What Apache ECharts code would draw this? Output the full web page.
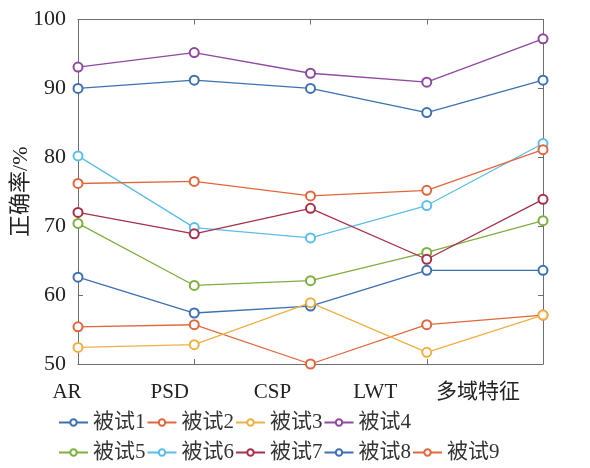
<!DOCTYPE html>
<html><head><meta charset="utf-8">
<script src="https://cdn.jsdelivr.net/npm/echarts@6/dist/echarts.min.js"></script>
<style>html,body{margin:0;padding:0;background:#fff}#c{width:590px;height:468px}</style>
</head><body><div id="c"></div>
<script>
const categories = ['AR', 'PSD', 'CSP', 'LWT', '多域特征'];
const seriesNames = ['被试1', '被试2', '被试3', '被试4', '被试5', '被试6', '被试7', '被试8', '被试9'];
const s1 = [62.6, 57.4, 58.4, 63.6, 63.6];
const s2 = [55.4, 55.7, 50.0, 55.7, 57.1];
const s3 = [52.4, 52.8, 58.9, 51.7, 57.1];
const s4 = [93.1, 95.2, 92.2, 90.9, 97.2];
const s5 = [70.4, 61.4, 62.1, 66.2, 70.8];
const s6 = [80.2, 69.8, 68.3, 73.0, 82.0];
const s7 = [72.0, 68.9, 72.6, 65.2, 73.9];
const s8 = [90.0, 91.2, 90.0, 86.5, 91.2];
const s9 = [76.2, 76.5, 74.4, 75.2, 81.1];
const yTicks = [50, 60, 70, 80, 90, 100];
const yName = '正确率/%';

const allData = [s1, s2, s3, s4, s5, s6, s7, s8, s9];
const colors = ['#3d70b0', '#e0673c', '#eeb045', '#8e48a0', '#7fae40', '#5cbde8', '#a6304a', '#3d70b0', '#e0673c'];
const font = '"Liberation Serif", "Noto Sans CJK SC", serif';
const axisColor = '#6e6e6e';

const legendCommon = {left: 58, padding: 0, itemWidth: 29, itemHeight: 8, itemGap: 1,
  textStyle: {fontFamily: font, fontSize: 21, color: '#333'}};

const chart = echarts.init(document.getElementById('c'), null, {renderer: 'canvas'});
chart.setOption({
  animation: false,
  backgroundColor: '#fff',
  color: colors,
  grid: [
    {left: 78, right: 47, top: 19.5, bottom: 104, containLabel: false, outerBoundsMode: 'none'},
    {left: 67, right: 112, top: 19.5, bottom: 104, containLabel: false, outerBoundsMode: 'none'}
  ],
  legend: [
    Object.assign({data: seriesNames.slice(0, 4), top: 412}, legendCommon),
    Object.assign({data: seriesNames.slice(4), top: 442}, legendCommon)
  ],
  xAxis: [
    {type: 'category', data: categories, boundaryGap: false, gridIndex: 0, position: 'bottom',
     axisLine: {lineStyle: {color: axisColor, width: 1}},
     axisTick: {inside: true, length: 5, lineStyle: {color: axisColor}},
     axisLabel: {show: false}},
    {type: 'category', data: categories, boundaryGap: false, gridIndex: 0, position: 'top',
     axisLine: {lineStyle: {color: axisColor, width: 1}},
     axisTick: {inside: true, length: 5, lineStyle: {color: axisColor}},
     axisLabel: {show: false}},
    {type: 'category', data: categories, boundaryGap: false, gridIndex: 1, position: 'bottom',
     axisLine: {show: false}, axisTick: {show: false},
     axisLabel: {interval: 0, margin: 18, fontFamily: font, fontSize: 21, color: '#222'}}
  ],
  yAxis: [
    {type: 'value', min: yTicks[0], max: yTicks[yTicks.length - 1], interval: 10, gridIndex: 0,
     name: yName, nameLocation: 'middle', nameGap: 46, nameRotate: 90, nameMoveOverlap: false,
     nameTextStyle: {fontFamily: font, fontSize: 22, color: '#222'},
     axisLine: {show: true, lineStyle: {color: axisColor, width: 1}},
     axisTick: {show: true, inside: true, length: 5, lineStyle: {color: axisColor}},
     splitLine: {show: false},
     axisLabel: {margin: 12, fontFamily: font, fontSize: 22, color: '#222'}},
    {type: 'value', min: yTicks[0], max: yTicks[yTicks.length - 1], interval: 10, gridIndex: 0, position: 'right',
     axisLine: {show: true, lineStyle: {color: axisColor, width: 1}},
     axisTick: {show: true, inside: true, length: 5, lineStyle: {color: axisColor}},
     splitLine: {show: false}, axisLabel: {show: false}},
    {type: 'value', gridIndex: 1, min: 50, max: 100, show: false}
  ],
  series: allData.map((d, i) => ({
    name: seriesNames[i], type: 'line', data: d, xAxisIndex: 0, yAxisIndex: 0,
    symbol: 'emptyCircle', symbolSize: 9, clip: false,
    lineStyle: {width: 1.3, color: colors[i]},
    itemStyle: {color: colors[i], borderWidth: 1.3}
  }))
});
</script></body></html>
